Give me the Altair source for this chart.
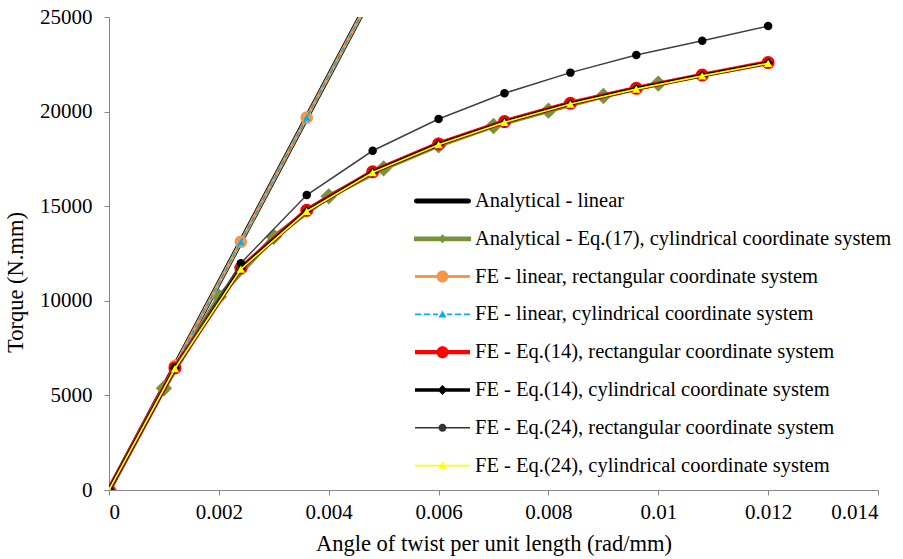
import altair as alt
import pandas as pd

# ---------------- data ----------------
names = [
    "Analytical - linear",
    "Analytical - Eq.(17), cylindrical coordinate system",
    "FE - linear, rectangular coordinate system",
    "FE - linear, cylindrical coordinate system",
    "FE - Eq.(14), rectangular coordinate system",
    "FE - Eq.(14), cylindrical coordinate system",
    "FE - Eq.(24), rectangular coordinate system",
    "FE - Eq.(24), cylindrical coordinate system",
]

x_an_lin = [0, 0.012]
y_an_lin = [0, 65640]

x_an_eq17 = [0, 0.001, 0.002, 0.003, 0.004, 0.005, 0.006, 0.007, 0.008, 0.009, 0.010]
y_an_eq17 = [0, 5380, 10220, 13390, 15520, 17000, 18220, 19240, 20050, 20820, 21480]

x_fe_lin = [0, 0.0012, 0.0024, 0.0036, 0.0048]
y_fe_lin_rect = [0, 6560, 13120, 19690, 26250]
y_fe_lin_cyl = [0, 6550, 13110, 19680, 26240]

x_fe = [0, 0.0012, 0.0024, 0.0036, 0.0048, 0.006, 0.0072, 0.0084, 0.0096, 0.0108, 0.012]
y_eq14_rect = [0, 6450, 11730, 14780, 16820, 18290, 19470, 20440, 21230, 21930, 22590]
y_eq14_cyl = [0, 6430, 11700, 14750, 16800, 18270, 19450, 20420, 21210, 21910, 22570]
y_eq24_rect = [0, 6480, 11990, 15590, 17930, 19610, 20970, 22060, 22990, 23750, 24520]
y_eq24_cyl = [0, 6410, 11670, 14720, 16780, 18250, 19430, 20400, 21190, 21890, 22550]

x_ticks = [0, 0.002, 0.004, 0.006, 0.008, 0.010, 0.012, 0.014]
y_ticks = [0, 5000, 10000, 15000, 20000, 25000]

series_x = [x_an_lin, x_an_eq17, x_fe_lin, x_fe_lin, x_fe, x_fe, x_fe, x_fe]
series_y = [y_an_lin, y_an_eq17, y_fe_lin_rect, y_fe_lin_cyl,
            y_eq14_rect, y_eq14_cyl, y_eq24_rect, y_eq24_cyl]

rows = []
for n, xs, ys in zip(names, series_x, series_y):
    for a, b in zip(xs, ys):
        rows.append({"series": n, "x": a, "y": b})
df = pd.DataFrame(rows)

# ---------------- styles ----------------
FONT = "Liberation Serif"
styles = [
    # line color, width, dash, marker shape, marker color, marker size
    ("#000000", 5.0, None, None, None, 0),
    ("#77933C", 5.0, None, "diamond", "#77933C", 270),
    ("#F79646", 3.5, None, "circle", "#F79646", 160),
    ("#00B0F0", 1.6, [5, 3], "triangle-up", "#00B0F0", 55),
    ("#FF0000", 5.0, None, "circle", "#FF0000", 170),
    ("#000000", 3.4, None, "diamond", "#000000", 100),
    ("#404040", 1.5, None, "circle", "#000000", 72),
    ("#FFFF00", 1.7, None, "triangle-up", "#FFFF00", 70),
]

xscale = alt.Scale(domain=[0, 0.014], nice=False, zero=False)
yscale = alt.Scale(domain=[0, 25000], nice=False, zero=False)

axis_common = dict(
    labelFont=FONT, titleFont=FONT, labelFontSize=21, titleFontSize=22.5,
    labelColor="#000000", titleColor="#000000", titleFontWeight="normal",
    domainColor="#868686", tickColor="#868686", tickSize=5, grid=False,
)
xaxis = alt.Axis(title="Angle of twist per unit length (rad/mm)", values=x_ticks,
                 format="~f", labelPadding=6, titlePadding=10, **axis_common)
yaxis = alt.Axis(title="Torque (N.mm)", values=y_ticks, format="d",
                 labelPadding=12, titleX=-94, titleY=265, titleBaseline="middle",
                 **axis_common)

base = alt.Chart(df)
layers = []
for n, (lc, lw, dash, shp, mc, ms) in zip(names, styles):
    sub = base.transform_filter(alt.datum.series == n)
    lk = dict(color=lc, strokeWidth=lw, clip=True)
    if dash:
        lk["strokeDash"] = dash
    layers.append(sub.mark_line(**lk).encode(
        x=alt.X("x:Q", scale=xscale, axis=xaxis),
        y=alt.Y("y:Q", scale=yscale, axis=yaxis)))
    if shp:
        layers.append(sub.mark_point(filled=True, shape=shp, color=mc, size=ms,
                                     opacity=1, strokeWidth=0, clip=True).encode(
            x=alt.X("x:Q", scale=xscale, axis=xaxis),
            y=alt.Y("y:Q", scale=yscale, axis=yaxis)))

# ---------------- legend symbols (custom paths) ----------------
S = 20.0   # px per unit (sqrt(symbolSize) / 2)
HALF = 28.5  # half width of the legend line in px


def u(p):
    return round(p / S, 4)


def rect(x0, x1, hw):
    return f"M{x0},{-hw}L{x1},{-hw}L{x1},{hw}L{x0},{hw}Z"


def circ(r, cx=0.0):
    return (f"M{cx + r},0A{r},{r} 0 1,1 {cx - r},0"
            f"A{r},{r} 0 1,1 {cx + r},0Z")


def diamond(d):
    return f"M0,{-d}L{d},0L0,{d}L{-d},0Z"


def tri(h):
    return f"M0,{-h}L{h},{round(h * 0.8, 4)}L{-h},{round(h * 0.8, 4)}Z"


E = u(HALF)
E2 = u(HALF - 1)
hw = u(2.4)
p1 = rect(-E + hw, E - hw, hw) + circ(hw, -E + hw) + circ(hw, E - hw)
p2 = rect(-E, E, u(2.4)) + diamond(u(4.5))
p3 = rect(-E2, E2, u(1.5)) + circ(u(6))
dashes = ""
for a0, a1 in [(27.5, 21.5), (18.5, 12.5), (9.5, 4.5)]:
    dashes += rect(-u(a0), -u(a1), u(0.8)) + rect(u(a1), u(a0), u(0.8))
p4 = dashes + tri(u(4))
p5 = rect(-E2, E2, u(2.1)) + circ(u(6))
p6 = rect(-E2, E2, u(1.7)) + diamond(u(5))
p7 = rect(-E2, E2, u(0.75)) + circ(u(4))
p8 = rect(-E2, E2, u(0.8)) + tri(u(4))
legend_paths = [p1, p2, p3, p4, p5, p6, p7, p8]
legend_colors = ["#000000", "#77933C", "#F79646", "#00B0F0",
                 "#FF0000", "#000000", "#333333", "#FFFF00"]

leg = alt.Legend(
    title=None, orient="none", legendX=305 + (HALF - S), legendY=164, padding=0,
    rowPadding=6.8, labelFont=FONT, labelFontSize=20.5, labelColor="#000000",
    labelOffset=(HALF - S) + 4, labelLimit=1000, symbolSize=(2 * S) ** 2,
    symbolStrokeWidth=0, symbolOpacity=1,
)

legend_df = pd.DataFrame({"series": names, "x": [0] * len(names), "y": [0] * len(names)})
legend_layer = alt.Chart(legend_df).mark_point(filled=True, opacity=0).encode(
    x=alt.X("x:Q", scale=xscale, axis=xaxis),
    y=alt.Y("y:Q", scale=yscale, axis=yaxis),
    shape=alt.Shape("series:N", scale=alt.Scale(domain=names, range=legend_paths), legend=leg),
    color=alt.Color("series:N", scale=alt.Scale(domain=names, range=legend_colors), legend=leg),
)

chart = alt.layer(*layers, legend_layer).properties(
    width=769, height=473,
    autosize=alt.AutoSizeParams(type="none"),
    padding={"left": 109, "top": 17, "right": 25, "bottom": 69},
    background="white",
).configure(font=FONT).configure_view(stroke=None)

chart.save("out.html", embed_options={"renderer": "svg", "actions": False})
